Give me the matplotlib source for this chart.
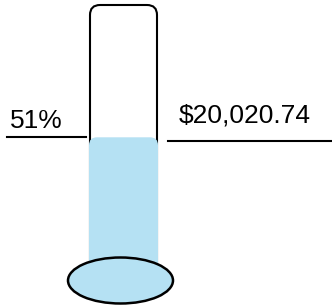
import matplotlib.pyplot as plt
from matplotlib.patches import FancyBboxPatch, Ellipse

plt.rcParams['font.family'] = ['Liberation Sans', 'DejaVu Sans']

# values shown on the chart
percent = 51
amount = 20020.74
pct_label = f"{percent}%"
amount_label = f"${amount:,.2f}"

fill_color = '#b5e1f3'

fig = plt.figure(figsize=(3.32, 3.05), dpi=100)
ax = fig.add_axes([0, 0, 1, 1])
ax.set_xlim(0, 332)
ax.set_ylim(305, 0)
ax.axis('off')

# tube geometry (pixel space)
tube_left, tube_right = 90, 157
tube_top, tube_bottom = 5, 275
level = tube_bottom - (tube_bottom - tube_top) * percent / 100

# empty tube outline
tube = FancyBboxPatch((tube_left, tube_top), tube_right - tube_left, tube_bottom - tube_top,
                      boxstyle='round,pad=0,rounding_size=10',
                      fc='white', ec='black', lw=1.5, zorder=1)
ax.add_patch(tube)

# liquid
liquid = FancyBboxPatch((tube_left - 1, level), tube_right - tube_left + 2, tube_bottom - level,
                        boxstyle='round,pad=0,rounding_size=8',
                        fc=fill_color, ec='none', zorder=2)
ax.add_patch(liquid)

# bulb
bulb = Ellipse((120.5, 280.5), 105, 46, fc=fill_color, ec='black', lw=1.8, zorder=3)
ax.add_patch(bulb)

# left marker: percentage
ax.plot([7, 86], [level, level], color='black', lw=1.5)
ax.text(10, 128, pct_label, fontsize=19, ha='left', va='baseline')

# right marker: amount
ax.plot([168, 332], [141, 141], color='black', lw=1.5)
ax.text(179, 123, amount_label, fontsize=19, ha='left', va='baseline')

fig.savefig('out.png', dpi=100)
